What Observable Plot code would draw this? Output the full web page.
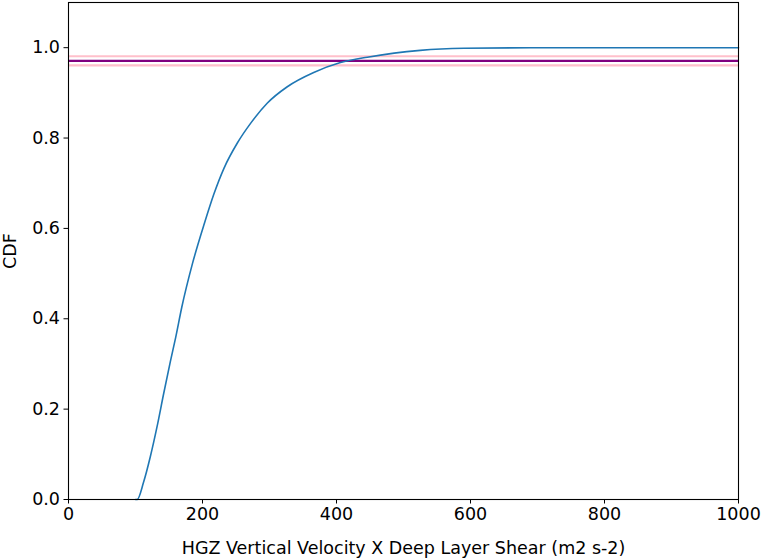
<!DOCTYPE html>
<html>
<head>
<meta charset="utf-8">
<script src="https://cdn.jsdelivr.net/npm/d3@7"></script>
<script src="https://cdn.jsdelivr.net/npm/@observablehq/plot@0.6"></script>
<style>
  html, body { margin: 0; padding: 0; background: #fff; }
  #chart { width: 762px; height: 558px; }
  #chart svg text { font-family: "DejaVu Sans", sans-serif; font-size: 17.5px; fill: #000; }
</style>
</head>
<body>
<div id="chart"></div>
<script>
// CDF curve
const cdfX = [100, 102.5, 112, 122, 132, 142, 152, 160, 169, 185, 203, 217, 232, 252, 272, 296.5, 326, 366, 406, 446, 486, 525, 590, 690, 1000];
const cdfY = [0, 0, 0.038, 0.094, 0.16, 0.234, 0.305, 0.359, 0.425, 0.522, 0.612, 0.676, 0.733, 0.789, 0.833, 0.877, 0.913, 0.945, 0.967, 0.979, 0.988, 0.994, 0.9986, 1.0, 1.0];
// horizontal reference lines
const meanLine = [0.971];
const bandLines = [0.961, 0.981];
// ticks
const xTicks = [0, 200, 400, 600, 800, 1000];
const yTicks = [0, 0.2, 0.4, 0.6, 0.8, 1.0];

const curve = cdfX.map((x, i) => ({x, y: cdfY[i]}));
const FS = 17.5;

const chart = Plot.plot({
  width: 762,
  height: 558,
  marginLeft: 68,
  marginRight: 24,
  marginTop: 2,
  marginBottom: 59,
  style: {fontFamily: "DejaVu Sans", fontSize: FS + "px", color: "#000", background: "#fff"},
  x: {domain: [0, 1000]},
  y: {domain: [0, 1.1]},
  marks: [
    Plot.ruleY(bandLines, {stroke: "#ffc0cb", strokeWidth: 2.2}),
    Plot.ruleY(meanLine, {stroke: "#800080", strokeWidth: 2.2}),
    Plot.line(curve, {x: "x", y: "y", stroke: "#1f77b4", strokeWidth: 1.6, curve: "monotone-x"}),
    Plot.frame({stroke: "#000", strokeWidth: 1.1}),
    Plot.axisX({ticks: xTicks, tickSize: 4.5, tickPadding: 4, fontSize: FS, tickFormat: d => String(d),
      label: "HGZ Vertical Velocity X Deep Layer Shear (m2 s-2)", labelAnchor: "center", labelArrow: "none", labelOffset: 54}),
    Plot.axisY({ticks: yTicks, tickSize: 4.5, tickPadding: 4, fontSize: FS, tickFormat: d3.format(".1f"),
      label: "CDF", labelAnchor: "center", labelArrow: "none", labelOffset: 65})
  ]
});
document.getElementById("chart").appendChild(chart);
</script>
</body>
</html>
